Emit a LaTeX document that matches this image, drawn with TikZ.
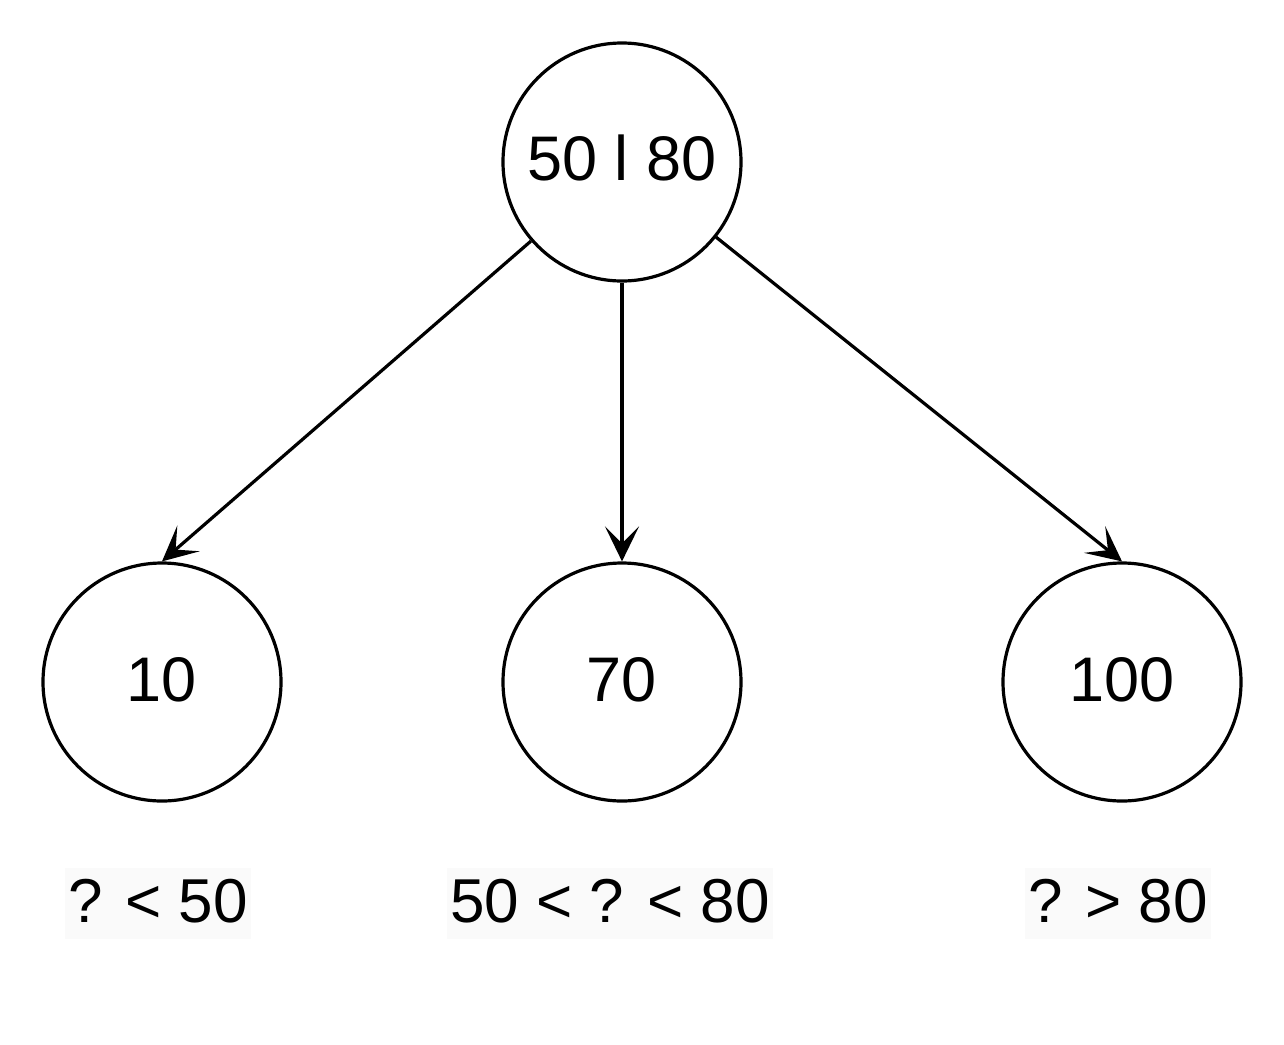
\documentclass[tikz,border=0pt]{standalone}
\usepackage{fontspec}
\setmainfont{Liberation Sans}
\usetikzlibrary{arrows.meta}
\definecolor{lblbg}{HTML}{FAFAFA}
\tikzset{
  nodecirc/.style={circle, draw=black, line width=3.2pt, minimum size=238pt, inner sep=0pt,
    font=\fontsize{63}{75}\selectfont, text height=45pt, text depth=0pt},
  conn/.style={line width=3.2pt, -{Stealth[length=35pt, width=34pt, inset=17pt]}},
  rangelbl/.style={fill=lblbg, inner xsep=3pt, inner ysep=0pt, minimum height=71pt,
    font=\fontsize{62}{74}\selectfont, text height=44.4pt, text depth=0pt}
}
\begin{document}
\begin{tikzpicture}[x=1pt,y=1pt]
\useasboundingbox (0,0) rectangle (1284,-1044);
\node[nodecirc] (root) at (622,-162) {\raisebox{4pt}{50 l 80}};
\node[nodecirc] (a) at (162,-682) {\raisebox{3pt}{10}};
\node[nodecirc] (b) at (622,-682) {\raisebox{3pt}{70}};
\node[nodecirc] (c) at (1122,-682) {\raisebox{3pt}{100}};
\draw[conn] (root) -- (a.north);
\draw[conn] (root) -- (b.north);
\draw[conn] (root) -- (c.north);
\node[rangelbl] (la) at (158,-903) {\raisebox{3pt}{? < 50}};
\node[rangelbl] (lb) at (610,-903) {\raisebox{3pt}{50 < ? < 80}};
\node[rangelbl] (lc) at (1118,-903) {\raisebox{3pt}{? > 80}};
\end{tikzpicture}
\end{document}
